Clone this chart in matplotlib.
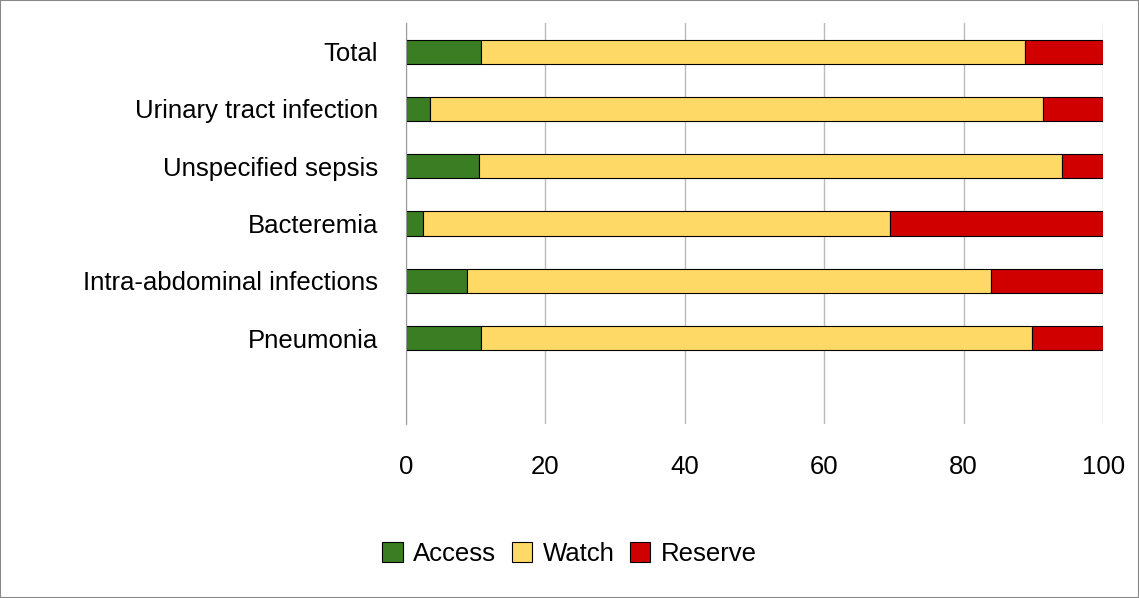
import numpy as np
import matplotlib.pyplot as plt

plt.rcParams['font.family'] = ['Liberation Sans', 'DejaVu Sans']

categories = ["Total", "Urinary tract infection", "Unspecified sepsis",
              "Bacteremia", "Intra-abdominal infections", "Pneumonia"]
access = [10.8, 3.4, 10.5, 2.4, 8.8, 10.8]
watch = [78.0, 88.0, 83.6, 67.0, 75.1, 79.0]
reserve = [100 - a - w for a, w in zip(access, watch)]

fig = plt.figure(figsize=(11.39, 5.98), dpi=100)
fig.patches.append(plt.Rectangle((0, 0), 1, 1, transform=fig.transFigure,
                                 fill=False, edgecolor="#888888", linewidth=1.5))
ax = fig.add_axes([0.3565, 0.291, 0.612, 0.6705])

y = np.arange(len(categories))
h = 0.42
ax.barh(y, access, height=h, color="#3a7d22", edgecolor="black", linewidth=0.8, label="Access")
ax.barh(y, watch, left=access, height=h, color="#ffd966", edgecolor="black", linewidth=0.8, label="Watch")
left2 = [a + w for a, w in zip(access, watch)]
ax.barh(y, reserve, left=left2, height=h, color="#d10000", edgecolor="black", linewidth=0.8, label="Reserve")

ax.set_xlim(0, 100)
ax.set_ylim(len(categories) + 0.5, -0.5)
ax.set_yticks(y)
ax.set_yticklabels(categories)
ax.set_xticks([0, 20, 40, 60, 80, 100])
ax.tick_params(axis="both", labelsize=18.5, length=0)
ax.tick_params(axis="x", pad=22)
ax.tick_params(axis="y", pad=20)
ax.grid(axis="x", color="#bbbbbb", linewidth=1)
ax.set_axisbelow(True)
for s in ["top", "right", "bottom"]:
    ax.spines[s].set_visible(False)
ax.spines["left"].set_color("#999999")

fig.legend(loc="lower center", bbox_to_anchor=(0.5, 0.015), ncol=3, frameon=False,
           fontsize=18.5, handlelength=0.8, handleheight=0.8, handletextpad=0.4,
           columnspacing=0.6)

fig.savefig("out.png", dpi=100)
